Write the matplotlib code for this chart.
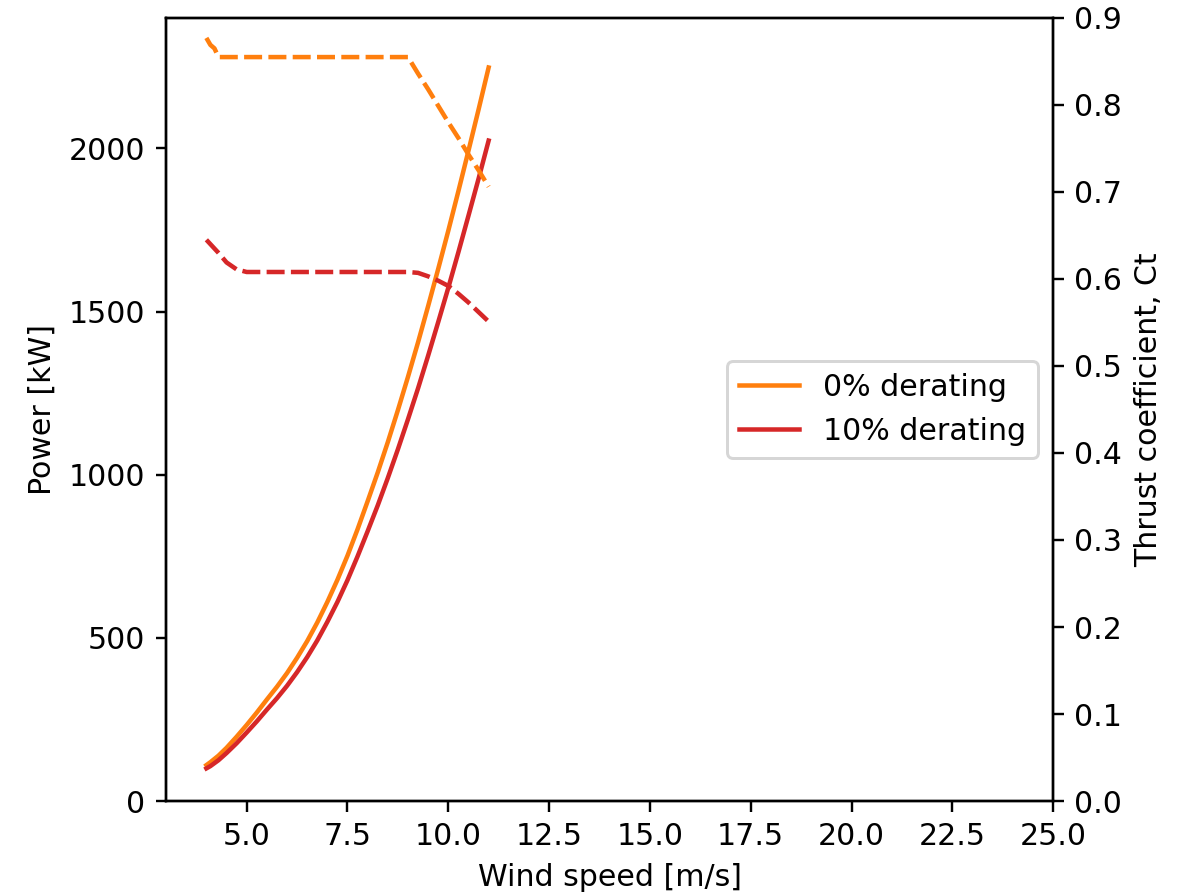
import matplotlib
matplotlib.use('Agg')
import matplotlib.pyplot as plt

# wind speed grid [m/s]
wind_speed = [4.0, 4.1, 4.2, 4.3, 4.5, 4.75, 5.0, 5.25, 5.5, 5.75, 6.0,
              6.25, 6.5, 6.75, 7.0, 7.25, 7.5, 7.75, 8.0, 8.25, 8.5,
              8.75, 9.0, 9.25, 9.5, 9.75, 10.0, 10.25, 10.5, 10.75, 11.0]

# power curves [kW]
power_0 = [110, 119, 129, 139, 163, 197, 233, 271, 311, 350, 392,
           439, 490, 547, 610, 678, 752, 833, 919, 1007, 1100,
           1198, 1300, 1406, 1517, 1631, 1748, 1869, 1993, 2119, 2248]
power_10 = [100, 107, 116, 125, 147, 177, 210, 244, 280, 315, 353,
            395, 441, 492, 549, 610, 677, 750, 827, 906, 990,
            1078, 1170, 1265, 1365, 1468, 1573, 1682, 1794, 1907, 2024]

# thrust coefficient curves
ct_0 = [0.877, 0.869, 0.865, 0.855, 0.855, 0.855, 0.855, 0.855, 0.855, 0.855, 0.855,
        0.855, 0.855, 0.855, 0.855, 0.855, 0.855, 0.855, 0.855, 0.855, 0.855,
        0.855, 0.855, 0.836, 0.818, 0.799, 0.780, 0.762, 0.743, 0.725, 0.706]
ct_10 = [0.645, 0.640, 0.635, 0.630, 0.619, 0.611, 0.608, 0.608, 0.608, 0.608, 0.608,
         0.608, 0.608, 0.608, 0.608, 0.608, 0.608, 0.608, 0.608, 0.608, 0.608,
         0.608, 0.608, 0.607, 0.603, 0.598, 0.592, 0.583, 0.573, 0.562, 0.551]

labels = ['0% derating', '10% derating']
colors = ['tab:orange', 'tab:red']

fig, ax = plt.subplots(figsize=(1186 / 216, 896 / 216), dpi=216)
fig.subplots_adjust(left=0.140, right=0.888, bottom=0.106, top=0.980)
ax2 = ax.twinx()

for p, ct, lab, c in zip([power_0, power_10], [ct_0, ct_10], labels, colors):
    ax.plot(wind_speed, p, color=c, linewidth=1.5, label=lab)
    ax2.plot(wind_speed, ct, color=c, linewidth=1.5, linestyle='--',
             dashes=(4.0, 1.4))

ax.set_xlim(3, 25)
ax.set_ylim(0, 2400)
ax2.set_ylim(0, 0.9)

ax.set_xlabel('Wind speed [m/s]')
ax.set_ylabel('Power [kW]')
ax2.set_ylabel('Thrust coefficient, Ct')

ax.legend(loc='center right')

plt.savefig('out.png', dpi=216)
